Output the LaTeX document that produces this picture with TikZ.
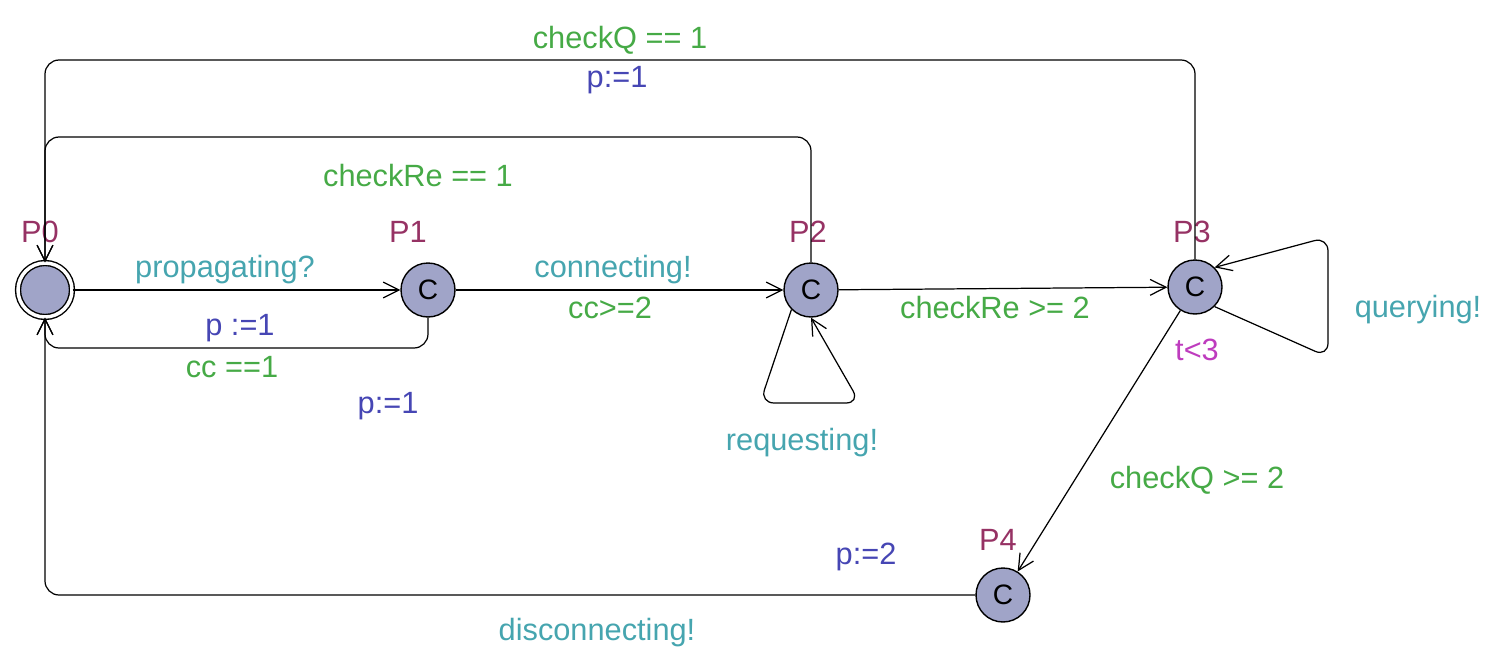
\documentclass[tikz,border=0pt]{standalone}
\usepackage{fontspec}
\setmainfont{Liberation Sans}
\usetikzlibrary{arrows.meta}
\definecolor{loc}{RGB}{160,164,200}
\definecolor{nm}{RGB}{150,50,100}
\definecolor{gr}{RGB}{70,170,70}
\definecolor{tl}{RGB}{70,165,175}
\definecolor{bl}{RGB}{70,70,180}
\definecolor{mg}{RGB}{190,60,190}
\begin{document}
\begin{tikzpicture}[x=0.02cm,y=-0.02cm,
  st/.style={circle,draw,fill=loc,minimum size=1.08cm,inner sep=0pt,line width=0.8pt,font=\fontsize{16}{18}\selectfont},
  e/.style={draw,line width=0.7pt,-{Straight Barb[length=9pt,width=9pt]},rounded corners=8pt},
  t/.style={font=\fontsize{17.5}{20}\selectfont,inner sep=0pt},
  g/.style={t,text=gr},tq/.style={t,text=tl},b/.style={t,text=bl},n/.style={t,text=nm}]
\useasboundingbox (0,0) rectangle (1500,659);
\node[st,double,double distance=2pt] (p0) at (45,290) {};
\node[st] (p1) at (428,290) {C};
\node[st] (p2) at (811,290) {C};
\node[st] (p3) at (1195,287) {C};
\node[st] (p4) at (1003,595) {C};
\node[n] at (40,232) {P0};
\node[n] at (408,232) {P1};
\node[n] at (808,232) {P2};
\node[n] at (1192,232) {P3};
\node[n] at (998,540) {P4};
\coordinate (a1) at (428,348); \coordinate (a2) at (45,348);
\coordinate (b1) at (811,137); \coordinate (b2) at (45,137);
\coordinate (c1) at (1195,60); \coordinate (c2) at (45,60);
\coordinate (d1) at (45,595);
\coordinate (l1) at (1328,237); \coordinate (l2) at (1328,357);
\coordinate (k1) at (760,403); \coordinate (k2) at (860,403);
\path[e] (p0) -- (p1);
\path[e] (p1.south) -- (a1) -- (a2) -- (p0.south);
\path[e] (p1) -- (p2);
\path[e] (p2) -- (p3);
\path[e] (p2.north) -- (b1) -- (b2) -- (p0.north);
\path[e] (p3.north) -- (c1) -- (c2) -- (p0.north);
\path[e] (p3.south east) -- (l2) -- (l1) -- (p3.north east);
\path[e] (p2.south west) -- (k1) -- (k2) -- (p2.south);
\path[e] (p3) -- (p4);
\path[e] (p4.west) -- (d1) -- (p0.south);
\node[tq] at (225,270) {propagating?};
\node[b] at (240,328) {p :=1};
\node[g] at (232,367) {cc ==1};
\node[b] at (388,406) {p:=1};
\node[tq] at (613,270) {connecting!};
\node[g] at (610,308) {cc>=2};
\node[g] at (995,308) {checkRe >= 2};
\node[g] at (418,176) {checkRe == 1};
\node[g] at (620,40) {checkQ == 1};
\node[b] at (617,80) {p:=1};
\node[tq] at (1418,310) {querying!};
\node[tq] at (802,443) {requesting!};
\node[t,text=mg] at (1197,350) {t<3};
\node[g] at (1197,480) {checkQ >= 2};
\node[b] at (866,557) {p:=2};
\node[tq] at (597,633) {disconnecting!};
\end{tikzpicture}
\end{document}
